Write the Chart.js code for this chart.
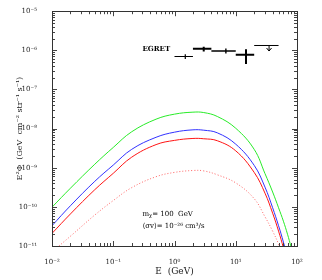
<!DOCTYPE html>
<html>
<head>
<meta charset="utf-8">
<script src="https://cdn.jsdelivr.net/npm/chart.js@4/dist/chart.umd.min.js"></script>
<style>
  html, body { margin: 0; padding: 0; background: #fff; }
  #wrap { width: 322px; height: 280px; position: relative; }
</style>
</head>
<body>
<div id="wrap"><canvas id="chart"></canvas></div>
<script>
// photon energy E (GeV)
const energy = [0.01, 0.02, 0.05, 0.1, 0.2, 0.5, 1, 2, 3, 5, 10, 20, 30, 40, 50, 60, 70, 80];

// E^2 Phi (GeV cm^-2 str^-1 s^-1)
const greenFlux = [9.8e-11, 3.0e-10, 1.23e-9, 3.3e-9, 8.3e-9, 1.74e-8, 2.34e-8, 2.63e-8, 2.57e-8, 2.04e-8, 1.02e-8, 2.95e-9, 7.1e-10, 2.4e-10, 9.5e-11, 4.3e-11, 2.0e-11, 9.5e-12];
const blueFlux  = [3.3e-11, 1.07e-10, 4.5e-10, 1.17e-9, 2.95e-9, 6.0e-9, 8.1e-9, 9.3e-9, 9.1e-9, 7.8e-9, 4.0e-9, 1.15e-9, 3.2e-10, 9.5e-11, 3.3e-11, 1.26e-11, 5e-12, 2e-12];
const redFlux   = [2.1e-11, 6.6e-11, 2.75e-10, 7.2e-10, 1.86e-9, 3.9e-9, 5.0e-9, 5.6e-9, 5.5e-9, 4.9e-9, 2.7e-9, 7.6e-10, 2.24e-10, 6.9e-11, 2.4e-11, 8.9e-12, 3.2e-12, 1.2e-12];
const dotFlux   = [7.1e-12, 1.78e-11, 6.2e-11, 1.45e-10, 3.1e-10, 5.9e-10, 7.6e-10, 8.5e-10, 8.3e-10, 6.6e-10, 4.1e-10, 1.62e-10, 5.6e-11, 2.4e-11, 1.12e-11, 5e-12, 2e-12, 8e-13];

// EGRET bins
const egretLow   = [1, 2, 4, 10, 20];
const egretHigh  = [2, 4, 10, 20, 50];
const egretMid   = [1.5, 3, 6.9, 14.7, 35];
const egretFlux  = [6.95e-7, 1.1e-6, 9.6e-7, 7.7e-7, 1.33e-6];
const egretErrLo = [6.0e-7, 9.3e-7, 8.3e-7, 4.5e-7, null];
const egretErrHi = [8.0e-7, 1.23e-6, 1.12e-6, 1.06e-6, null];
const egretLimitTo = 9.6e-7; // arrow end for the upper limit

const xMin = 0.01, xMax = 100, yMin = 1e-11, yMax = 1e-5;
const serif = "'DejaVu Serif', serif";

const supMap = {'-': '\u207B', '0': '\u2070', '1': '\u00B9', '2': '\u00B2', '3': '\u00B3',
  '4': '\u2074', '5': '\u2075', '6': '\u2076', '7': '\u2077', '8': '\u2078', '9': '\u2079'};

function powLabel(v) {
  const e = Math.round(Math.log10(v));
  if (Math.abs(v / Math.pow(10, e) - 1) > 1e-6) return '';
  return '10' + String(e).split('').map(c => supMap[c]).join('');
}

function toPoints(ys) {
  return energy.map((e, i) => ({ x: e, y: ys[i] }));
}

// frame with inward ticks on all four sides
const framePlugin = {
  id: 'frame',
  afterDraw(chart) {
    const { ctx, chartArea: a, scales } = chart;
    const xs = scales.x, ys = scales.y;
    ctx.save();
    ctx.strokeStyle = '#444';
    ctx.lineWidth = 1;
    ctx.beginPath();
    for (let d = -2; d < 2; d++) {
      for (let m = 1; m < 10; m++) {
        const px = Math.round(xs.getPixelForValue(m * Math.pow(10, d))) + 0.5;
        const len = m === 1 ? 5 : 3;
        ctx.moveTo(px, a.bottom); ctx.lineTo(px, a.bottom - len);
        ctx.moveTo(px, a.top); ctx.lineTo(px, a.top + len);
      }
    }
    for (let d = -11; d < -5; d++) {
      for (let m = 1; m < 10; m++) {
        const py = Math.round(ys.getPixelForValue(m * Math.pow(10, d))) + 0.5;
        const len = m === 1 ? 5 : 3;
        ctx.moveTo(a.left, py); ctx.lineTo(a.left + len, py);
        ctx.moveTo(a.right, py); ctx.lineTo(a.right - len, py);
      }
    }
    ctx.stroke();
    ctx.strokeStyle = '#333';
    ctx.strokeRect(Math.round(a.left) + 0.5, Math.round(a.top) + 0.5,
      Math.round(a.right - a.left), Math.round(a.bottom - a.top));
    ctx.restore();
  }
};

// EGRET error bars and text labels
const egretPlugin = {
  id: 'egret',
  afterDatasetsDraw(chart) {
    const { ctx, scales } = chart;
    const xs = scales.x, ys = scales.y;
    const widths = [1.2, 2, 1.4, 2, 1];
    ctx.save();
    ctx.strokeStyle = '#000';
    egretFlux.forEach((f, i) => {
      ctx.lineWidth = widths[i];
      const y = ys.getPixelForValue(f);
      const xm = xs.getPixelForValue(egretMid[i]);
      ctx.beginPath();
      ctx.moveTo(xs.getPixelForValue(egretLow[i]), y);
      ctx.lineTo(xs.getPixelForValue(egretHigh[i]), y);
      if (egretErrLo[i] !== null) {
        ctx.moveTo(xm, ys.getPixelForValue(egretErrHi[i]));
        ctx.lineTo(xm, ys.getPixelForValue(egretErrLo[i]));
        ctx.stroke();
      } else {
        const yEnd = ys.getPixelForValue(egretLimitTo);
        ctx.moveTo(xm, y);
        ctx.lineTo(xm, yEnd);
        ctx.stroke();
        ctx.lineWidth = 1;
        ctx.beginPath();
        ctx.moveTo(xm - 2.5, yEnd - 3);
        ctx.lineTo(xm, yEnd);
        ctx.lineTo(xm + 2.5, yEnd - 3);
        ctx.stroke();
      }
    });

    ctx.fillStyle = '#000';
    ctx.textBaseline = 'middle';
    ctx.textAlign = 'left';
    ctx.font = 'bold 7px ' + serif;
    ctx.fillText('EGRET', xs.getPixelForValue(0.3), ys.getPixelForValue(1.08e-6));

    ctx.font = '7px ' + serif;
    let tx = xs.getPixelForValue(0.3);
    let ty = ys.getPixelForValue(6.6e-11);
    ctx.fillText('m', tx, ty);
    tx += ctx.measureText('m').width;
    ctx.font = '5px ' + serif;
    ctx.fillText('\u03C7', tx, ty + 2);
    tx += ctx.measureText('\u03C7').width;
    ctx.font = '7px ' + serif;
    ctx.fillText('= 100  GeV', tx, ty);
    ctx.fillText('\u27E8\u03C3v\u27E9= 10\u207B\u00B2\u2076 cm\u00B3/s', xs.getPixelForValue(0.3), ys.getPixelForValue(3.3e-11));
    ctx.restore();
  }
};

const chart = new Chart(document.getElementById('chart'), {
  type: 'line',
  data: {
    datasets: [
      { data: toPoints(greenFlux), borderColor: 'rgb(40,235,40)', borderWidth: 1 },
      { data: toPoints(blueFlux), borderColor: 'rgb(50,50,255)', borderWidth: 1 },
      { data: toPoints(redFlux), borderColor: 'rgb(255,20,20)', borderWidth: 1 },
      { data: toPoints(dotFlux), borderColor: 'rgba(255,60,60,0.8)', borderWidth: 1, borderDash: [1, 2] }
    ]
  },
  options: {
    responsive: true,
    maintainAspectRatio: false,
    animation: false,
    layout: { padding: { top: 4, right: 25, left: 0, bottom: 0 } },
    elements: {
      point: { radius: 0 },
      line: { tension: 0.4, fill: false }
    },
    plugins: { legend: { display: false }, tooltip: { enabled: false } },
    scales: {
      x: {
        type: 'logarithmic',
        min: xMin, max: xMax,
        grid: { display: false },
        border: { display: false },
        ticks: {
          autoSkip: false, maxRotation: 0, padding: 4,
          color: '#222', font: { family: serif, size: 7 },
          callback: v => powLabel(v)
        },
        title: { display: true, text: 'E  (GeV)', color: '#222',
          font: { family: serif, size: 9 }, padding: { top: 0, bottom: 3 } },
        afterFit: s => { s.height = 34; }
      },
      y: {
        type: 'logarithmic',
        min: yMin, max: yMax,
        grid: { display: false },
        border: { display: false },
        ticks: {
          autoSkip: false, padding: 7,
          color: '#222', font: { family: serif, size: 7 },
          callback: v => powLabel(v)
        },
        title: { display: true, text: 'E\u00B2\u03A6  (GeV  cm\u207B\u00B2 str\u207B\u00B9 s\u207B\u00B9)', color: '#222',
          font: { family: serif, size: 8 }, padding: { top: 15, bottom: 0 } },
        afterFit: s => { s.width = 52; }
      }
    }
  },
  plugins: [framePlugin, egretPlugin]
});
</script>
</body>
</html>
